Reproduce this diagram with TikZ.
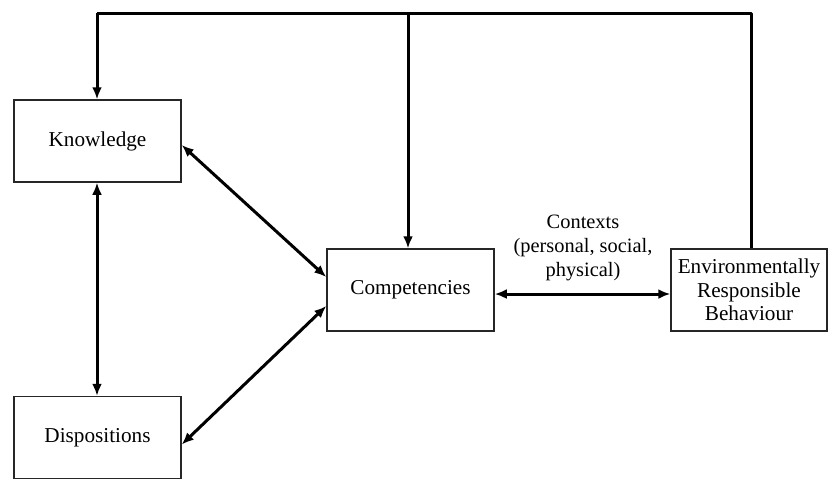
\documentclass[tikz,border=0pt]{standalone}
\usepackage{fontspec}
\setmainfont{Liberation Serif}
\usetikzlibrary{arrows.meta}
\begin{document}
\begin{tikzpicture}[x=0.5pt,y=-0.5pt,
  box/.style={draw=black!85,line width=0.75pt,minimum width=83.5pt,minimum height=41pt,
    inner sep=0pt,align=center,font=\fontsize{10.6}{11.8}\selectfont},
  conn/.style={line width=1.5pt,-{Latex[length=6pt,width=5pt]}},
  both/.style={line width=1.5pt,{Latex[length=6pt,width=5pt]}-{Latex[length=6pt,width=5pt]}},
  lbl/.style={align=center,font=\fontsize{10.2}{11.8}\selectfont,inner sep=0pt}]
\useasboundingbox (0,0) rectangle (828,479);
% boxes
\node[box] (know) at (97.5,141) {Knowledge};
\node[box] (disp) at (97.5,437.5) {Dispositions};
\node[box] (comp) at (410.5,290) {Competencies};
\node[box,minimum width=78pt] (erb) at (749,290) {Environmentally\\Responsible\\Behaviour};
\node[lbl] (ctx) at (583,248) {Contexts\\(personal, social,\\physical)};
% feedback loop along the top
\coordinate (tl) at (97,13);
\coordinate (tm) at (408,13);
\coordinate (tr) at (751,13);
\draw[line width=1.5pt,line join=round] (erb.north -| tr) -- (tr) -- (tl);
\draw[conn] (tl) -- (know.north -| tl);
\draw[conn] (tm) -- (comp.north -| tm);
% links between the boxes
\draw[both] (know.south -| tl) -- (disp.north -| tl);
\draw[both] ([yshift=-2pt]know.east) -- ([yshift=6.5pt]comp.west);
\draw[both] ([yshift=-3.5pt]disp.east) -- ([yshift=-8pt]comp.west);
\draw[both] ([yshift=-2pt]comp.east) -- ([yshift=-2pt]erb.west);
\end{tikzpicture}
\end{document}
